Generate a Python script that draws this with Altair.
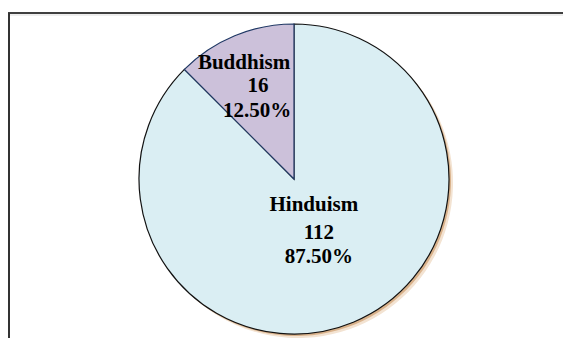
import altair as alt
import pandas as pd

religions = ["Hinduism", "Buddhism"]
counts = [112, 16]
percents = ["87.50%", "12.50%"]
order_idx = [0, 1]

df = pd.DataFrame({"religion": religions, "count": counts, "pct": percents, "ord": order_idx})

W, H = 555, 325
CX, CY = 286, 166
R = 155

base = alt.Chart(df).encode(
    theta=alt.Theta("count:Q", stack=True),
    order=alt.Order("ord:Q"),
)

shadow_outer = base.mark_arc(radius=R, color="#F3E3D2", strokeWidth=0).encode(
    x=alt.value(CX + 4), y=alt.value(CY + 4))
shadow_inner = base.mark_arc(radius=R, color="#D9B28B", strokeWidth=0).encode(
    x=alt.value(CX + 2), y=alt.value(CY + 2))
pie = base.mark_arc(radius=R, strokeWidth=1.2).encode(
    x=alt.value(CX), y=alt.value(CY),
    color=alt.Color("religion:N", scale=alt.Scale(domain=religions, range=["#DAEEF3", "#CCC1DA"]), legend=None),
    stroke=alt.Stroke("religion:N", scale=alt.Scale(domain=religions, range=["#111111", "#1F3864"]), legend=None),
)

label_specs = {
    "Buddhism": dict(radius=94, lines=[("religion", -14, -23), ("count", 0, 0), ("pct", -1, 25)]),
    "Hinduism": dict(radius=65, lines=[("religion", -5, -28), ("count", 0, 0), ("pct", 0, 24)]),
}

text_layers = []
for rel, spec in label_specs.items():
    for field, dx, dy in spec["lines"]:
        t = base.transform_calculate(
            lbl=f"datum.religion == '{rel}' ? '' + datum['{field}'] : ''"
        ).mark_text(
            radius=spec["radius"], dx=dx, dy=dy, font="Liberation Serif", fontWeight="bold",
            fontSize=21, baseline="alphabetic", align="center", color="black",
        ).encode(x=alt.value(CX), y=alt.value(CY), text="lbl:N")
        text_layers.append(t)

frame_df = pd.DataFrame({"a": [0]})
top = alt.Chart(frame_df).mark_rule(color="black", strokeWidth=1.5).encode(
    x=alt.value(0), x2=alt.value(W + 5), y=alt.value(0))
top_shade = alt.Chart(frame_df).mark_rule(color="#DDDDDD", strokeWidth=1).encode(
    x=alt.value(2), x2=alt.value(W + 5), y=alt.value(2))
left = alt.Chart(frame_df).mark_rule(color="#333333", strokeWidth=2).encode(
    x=alt.value(1), y=alt.value(0), y2=alt.value(H + 5))

chart = alt.layer(top_shade, top, left, shadow_outer, shadow_inner, pie, *text_layers).properties(
    width=W, height=H,
    padding={"left": 8, "top": 13, "right": 0, "bottom": 0},
    autosize=alt.AutoSizeParams(type="none"),
).configure_view(stroke=None)

chart.save("out.html", embed_options={"renderer": "svg", "actions": False})
